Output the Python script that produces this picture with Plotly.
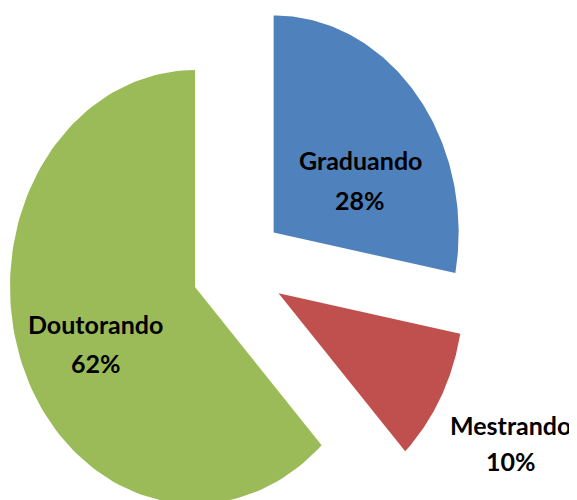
import numpy as np
import plotly.graph_objects as go

# Data
categories = ["Graduando", "Mestrando", "Doutorando"]
percentages = [28, 10, 62]
colors = ["#4F81BD", "#C0504D", "#9BBB59"]

# Page body has an 8px margin, so the figure is drawn 8px in from the corner
OFF = 8
W, H = 577 - OFF, 500 - OFF

# Exploded pie layout, in pixels of the reference picture
cx, cy = 238, 267      # pie centre
rx, ry = 185, 217      # the picture is squeezed horizontally
pull = 0.25

# label centres in reference pixels: (name line, percentage line)
label_pos = {
    "Graduando": ((360, 160), (360, 200)),
    "Mestrando": ((511, 425), (511, 461)),
    "Doutorando": ((95, 324), (96, 363)),
}

fig = go.Figure()

total = sum(percentages)
start = 0.0
for name, pct, col in zip(categories, percentages, colors):
    span = 360.0 * pct / total
    a0, a1 = start, start + span
    mid = np.radians((a0 + a1) / 2)
    ox, oy = pull * np.sin(mid), pull * np.cos(mid)
    t = np.radians(np.linspace(a0, a1, 120))
    xs = np.concatenate([[ox], ox + np.sin(t), [ox]])
    ys = np.concatenate([[oy], oy + np.cos(t), [oy]])
    fig.add_trace(go.Scatter(
        x=xs, y=ys, mode="lines", fill="toself",
        fillcolor=col, line=dict(width=0, color=col),
        name=name, hoveron="fills",
        text=f"{name}: {pct}%", hoverinfo="text",
    ))
    start = a1

font = dict(family="Lato, Roboto, sans-serif", size=25, color="black")
for name, pct in zip(categories, percentages):
    (nx, ny), (px, py) = label_pos[name]
    for txt, (x, y) in ((f"<b>{name}</b>", (nx, ny)), (f"<b>{pct}%</b>", (px, py))):
        fig.add_annotation(x=(x - OFF) / W, y=1 - (y - OFF) / H,
                           xref="paper", yref="paper",
                           text=txt, showarrow=False, font=font,
                           xanchor="center", yanchor="middle")

fig.update_layout(
    width=W, height=H,
    margin=dict(l=0, r=0, t=0, b=0),
    paper_bgcolor="white", plot_bgcolor="white",
    showlegend=False,
    xaxis=dict(range=[(OFF - cx) / rx, (OFF + W - cx) / rx], visible=False, fixedrange=True),
    yaxis=dict(range=[(cy - OFF - H) / ry, (cy - OFF) / ry], visible=False, fixedrange=True),
)

fig.write_html("out.html")
